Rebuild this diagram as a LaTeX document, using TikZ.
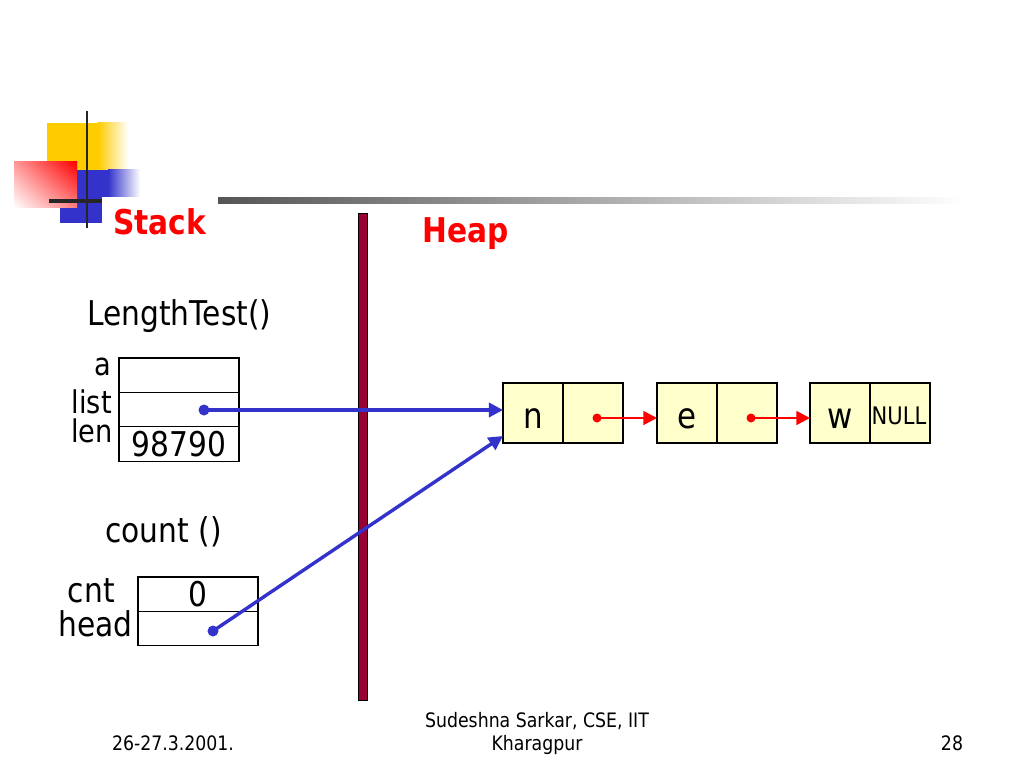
\documentclass[tikz,border=0pt]{standalone}
\usepackage{fontspec}
\setmainfont{DejaVu Sans}[FakeStretch=0.87]
\usetikzlibrary{arrows.meta}
\usetikzlibrary{positioning}
\usetikzlibrary{shadings}

\definecolor{ptrblue}{RGB}{51,51,204}
\definecolor{barred}{RGB}{153,0,51}
\definecolor{cellfill}{RGB}{255,255,204}
\definecolor{logoyellow}{RGB}{255,204,0}
\definecolor{logoblue}{RGB}{51,51,204}
\definecolor{rulegray}{RGB}{85,85,85}

\begin{document}
\begin{tikzpicture}[x=0.703125pt, y=-0.703125pt, >={Triangle[length=9.5pt,width=9.5pt]},
    memcell/.style={draw, line width=0.8pt, minimum width=84.4pt, minimum height=24.2pt,
        inner sep=0pt, outer sep=0pt, font=\fontsize{24}{28}\selectfont},
    listcell/.style={draw, line width=0.8pt, fill=cellfill, minimum size=42.2pt,
        inner sep=0pt, outer sep=0pt},
    varname/.style={inner sep=0pt, font=\fontsize{24}{28}\selectfont},
    slotname/.style={inner sep=0pt, font=\fontsize{22}{26}\selectfont},
    cellchar/.style={inner sep=0pt, font=\fontsize{25}{30}\selectfont},
    heading/.style={inner sep=0pt, red, font=\fontsize{24}{28}\selectfont\bfseries},
    footer/.style={inner sep=0pt, font=\fontsize{14}{16.5}\selectfont},
    headptr/.style={-{Triangle[length=10pt,width=10pt]}, ptrblue, line width=2.4pt},
    nextptr/.style={->, red, line width=1.9pt}]

    \useasboundingbox (0,0) rectangle (1024,768);

    % Slide logo and title rule
    \fill[logoyellow] (47,123) rectangle (98,170);
    \shade[left color=logoyellow, right color=white] (98,123) rectangle (128,170);
    \fill[logoblue] (60,170) rectangle (102,223);
    \fill[logoblue] (102,170) rectangle (108,197);
    \shade[left color=logoblue, right color=white] (108,170) rectangle (140,197);
    \shade[upper right=red, lower left=white, upper left=red!40!white, lower right=red!50!white]
        (14,162) rectangle (77,208);
    \draw[line width=2.1pt, black!85] (87,111) -- (87,228);
    \draw[line width=2.8pt, black!85] (49,201) -- (102,201);
    \shade[left color=rulegray, right color=white] (218,198) rectangle (965,204);

    % Stack | Heap divider
    \node[heading, anchor=base west] (stack) at (113,235) {Stack};
    \node[heading, anchor=base west] (heap) at (422,243) {Heap};
    \draw[fill=barred, line width=0.6pt] (358,213) rectangle (367,700);

    % Frame of LengthTest()
    \node[varname, anchor=base west] (lentest) at (87,326) {LengthTest()};
    \node[memcell, anchor=north west] (a) at (119,358) {};
    \node[memcell, below=0pt of a] (list) {};
    \node[memcell, below=0pt of list] (len) {98790};
    \node[slotname, anchor=base east] (aname) at (111,375) {a};
    \node[slotname, anchor=base east] (listname) at (112,413) {list};
    \node[slotname, anchor=base east] (lenname) at (113,442) {len};

    % Frame of count ()
    \node[varname, anchor=base west] (counttest) at (105,542) {count ()};
    \node[memcell, anchor=north west] (cnt) at (138,577) {0};
    \node[memcell, below=0pt of cnt] (head) {};
    \node[varname, anchor=base east] (cntname) at (115,602) {cnt};
    \node[varname, anchor=base east] (headname) at (133,636) {head};

    % Linked list on the heap
    \foreach \nm/\x in {n/503, e/657, w/810} {
        \node[listcell, anchor=north west] (\nm) at (\x,383) {};
        \node[listcell, right=0pt of \nm] (\nm next) {};
        \node[cellchar, anchor=base] at (\x+30,428) {\nm};
    }
    \node[inner sep=0pt, font=\fontsize{17}{20}\selectfont, anchor=base] (null) at (899,424) {NULL};

    % Pointers
    \coordinate (listptr) at (204,410);
    \coordinate (headtail) at (213,631);
    \coordinate (nin) at (503,436);
    \coordinate (nptr) at (597,418);
    \coordinate (eptr) at (751,418);
    \fill[ptrblue] (listptr) circle (5.5);
    \fill[ptrblue] (headtail) circle (5.5);
    \draw[headptr] (listptr) -- (listptr -| n.west);
    \draw[headptr] (headtail) -- (nin);
    \fill[red] (nptr) circle (4.5);
    \fill[red] (eptr) circle (4.5);
    \draw[nextptr] (nptr) -- (nptr -| e.west);
    \draw[nextptr] (eptr) -- (eptr -| w.west);

    % Footer
    \node[footer, anchor=base] (date) at (173,750) {26-27.3.2001.};
    \node[footer, anchor=base] (author) at (537,727) {Sudeshna Sarkar, CSE, IIT};
    \node[footer, anchor=base] (inst) at (537,750) {Kharagpur};
    \node[footer, anchor=base] (page) at (952,750) {28};

\end{tikzpicture}
\end{document}
